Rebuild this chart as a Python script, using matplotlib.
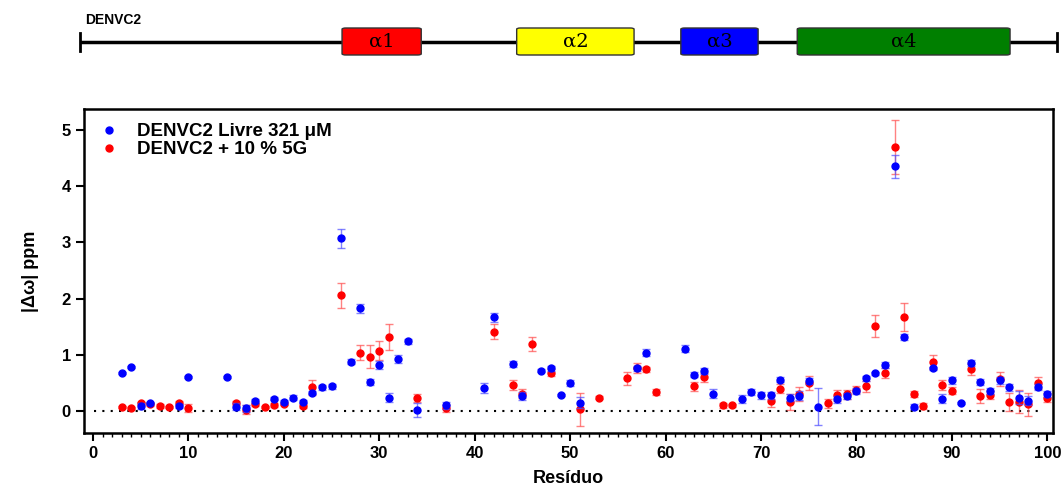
import matplotlib
matplotlib.use("Agg")
import matplotlib.pyplot as plt
from matplotlib.patches import FancyBboxPatch
from matplotlib.lines import Line2D
import numpy as np

plt.rcParams["font.family"] = ["Liberation Sans", "DejaVu Sans"]

# DENVC2 free (blue)
blue_res = [3, 4, 5, 6, 9, 10, 14, 15, 16, 17, 19, 20, 21, 22, 23, 24, 25, 26, 27, 28,
            29, 30, 31, 32, 33, 34, 37, 41, 42, 44, 45, 47, 48, 49, 50, 51, 57, 58, 62, 63,
            64, 65, 68, 69, 70, 71, 72, 73, 74, 75, 76, 78, 79, 80, 81, 82, 83, 84, 85, 86,
            88, 89, 90, 91, 92, 93, 94, 95, 96, 97, 98, 99, 100]
blue_val = [0.68, 0.79, 0.09, 0.14, 0.09, 0.60, 0.61, 0.08, 0.05, 0.18, 0.22, 0.16, 0.24, 0.17, 0.33, 0.42, 0.44, 3.07, 0.88, 1.83,
            0.52, 0.82, 0.24, 0.92, 1.24, 0.02, 0.10, 0.41, 1.67, 0.84, 0.27, 0.72, 0.76, 0.29, 0.50, 0.15, 0.76, 1.04, 1.11, 0.65,
            0.71, 0.31, 0.21, 0.34, 0.28, 0.28, 0.56, 0.24, 0.27, 0.53, 0.08, 0.21, 0.27, 0.36, 0.58, 0.67, 0.82, 4.35, 1.32, 0.08,
            0.76, 0.22, 0.55, 0.15, 0.85, 0.52, 0.36, 0.55, 0.42, 0.24, 0.18, 0.43, 0.30]
blue_err = [0.02, 0.02, 0.05, 0.03, 0.04, 0.02, 0.02, 0.06, 0.06, 0.04, 0.03, 0.03, 0.04, 0.03, 0.03, 0.04, 0.04, 0.17, 0.05, 0.08,
            0.05, 0.07, 0.08, 0.07, 0.05, 0.13, 0.06, 0.09, 0.08, 0.05, 0.07, 0.03, 0.05, 0.02, 0.05, 0.10, 0.05, 0.06, 0.06, 0.05,
            0.05, 0.08, 0.07, 0.05, 0.06, 0.06, 0.04, 0.06, 0.08, 0.05, 0.33, 0.06, 0.05, 0.05, 0.05, 0.03, 0.05, 0.20, 0.05, 0.05,
            0.03, 0.08, 0.06, 0.02, 0.05, 0.05, 0.05, 0.06, 0.06, 0.11, 0.08, 0.05, 0.05]

# DENVC2 + 10 % 5G (red)
red_res = [3, 4, 5, 6, 7, 8, 9, 10, 15, 16, 17, 18, 19, 20, 22, 23, 26, 28, 29, 30,
           31, 34, 37, 42, 44, 45, 46, 48, 51, 53, 56, 57, 58, 59, 63, 64, 66, 67, 71, 72,
           73, 74, 75, 77, 78, 79, 80, 81, 82, 83, 84, 85, 86, 87, 88, 89, 90, 92, 93, 94,
           95, 96, 97, 98, 99, 100]
red_val = [0.07, 0.06, 0.14, 0.12, 0.09, 0.07, 0.14, 0.05, 0.14, 0.02, 0.12, 0.07, 0.11, 0.13, 0.09, 0.42, 2.06, 1.04, 0.97, 1.07,
           1.32, 0.23, 0.05, 1.41, 0.47, 0.31, 1.19, 0.68, 0.03, 0.24, 0.58, 0.77, 0.74, 0.34, 0.44, 0.60, 0.10, 0.10, 0.18, 0.40,
           0.16, 0.30, 0.50, 0.14, 0.28, 0.30, 0.38, 0.44, 1.51, 0.67, 4.70, 1.68, 0.30, 0.09, 0.87, 0.46, 0.36, 0.74, 0.27, 0.28,
           0.57, 0.17, 0.17, 0.12, 0.50, 0.24]
red_err = [0.02, 0.02, 0.03, 0.03, 0.03, 0.02, 0.04, 0.07, 0.04, 0.08, 0.03, 0.02, 0.03, 0.03, 0.03, 0.14, 0.22, 0.14, 0.20, 0.17,
           0.23, 0.07, 0.06, 0.13, 0.09, 0.08, 0.12, 0.06, 0.30, 0.02, 0.11, 0.09, 0.05, 0.06, 0.08, 0.08, 0.05, 0.02, 0.10, 0.08,
           0.14, 0.12, 0.12, 0.08, 0.10, 0.08, 0.06, 0.10, 0.20, 0.09, 0.48, 0.25, 0.05, 0.05, 0.12, 0.09, 0.06, 0.10, 0.12, 0.07,
           0.12, 0.16, 0.20, 0.20, 0.10, 0.08]

# helices (residue ranges) for the top diagram
helix_names = ["α1", "α2", "α3", "α4"]
helix_start = [26.1, 44.4, 61.6, 73.8]
helix_end = [34.4, 56.7, 69.7, 96.1]
helix_colors = ["#ff0000", "#ffff00", "#0000ff", "#007f00"]

XLIM = (-0.94, 100.6)

fig = plt.figure(figsize=(10.63, 4.95), dpi=100)
ax = fig.add_axes([84 / 1063, 62 / 495, 969 / 1063, 324 / 495])

ax.axhline(0, color="k", linestyle=(0, (1, 3)), linewidth=1.5, xmin=0.01, xmax=0.99, zorder=1)
ax.errorbar(red_res, red_val, yerr=red_err, fmt="o", color="#ff0000", ms=5, ecolor=(1, 0.3, 0.3, 0.7),
            elinewidth=1, capsize=3, capthick=1, zorder=2)
ax.errorbar(blue_res, blue_val, yerr=blue_err, fmt="o", color="#0000ff", ms=5, ecolor=(0.3, 0.3, 1, 0.7),
            elinewidth=1, capsize=3, capthick=1, zorder=3)

ax.set_xlim(*XLIM)
ax.set_ylim(-0.39, 5.37)
ax.set_xticks(np.arange(0, 101, 10))
ax.set_xticks(np.arange(0, 101, 1), minor=True)
ax.set_yticks(np.arange(0, 6, 1))
for s in ax.spines.values():
    s.set_linewidth(1.8)
ax.tick_params(axis="both", which="major", width=1.5, length=6, labelsize=12)
ax.tick_params(axis="x", which="minor", width=1, length=3)
for lab in ax.get_xticklabels() + ax.get_yticklabels():
    lab.set_fontweight("bold")
ax.set_xlabel("Resíduo", fontsize=13, fontweight="bold", labelpad=6)
ax.set_ylabel("|Δω| ppm", fontsize=13, fontweight="bold", labelpad=16)

handles = [Line2D([], [], marker="o", ls="none", color="#0000ff", ms=5),
           Line2D([], [], marker="o", ls="none", color="#ff0000", ms=5)]
ax.legend(handles, ["DENVC2 Livre 321 μM", "DENVC2 + 10 % 5G"], loc="upper left", frameon=False,
          handletextpad=0.9, borderaxespad=0.35, borderpad=0.4, labelspacing=0.05,
          prop={"weight": "bold", "size": 13.5}, handlelength=1.2)

# top secondary structure diagram
top = fig.add_axes([84 / 1063, (495 - 70) / 495, 969 / 1063, 70 / 495])
top.set_xlim(*XLIM)
top.set_ylim(70, 0)
top.axis("off")
top.plot([-1.36, 101.0], [42, 42], color="k", lw=2.5, clip_on=False, solid_capstyle="butt")
for xe in (-1.36, 101.0):
    top.plot([xe, xe], [33, 51], color="k", lw=2, clip_on=False)
for name, s, e, c in zip(helix_names, helix_start, helix_end, helix_colors):
    top.add_patch(FancyBboxPatch((s, 28), e - s, 27, boxstyle="round,pad=0,rounding_size=0.4",
                                 facecolor=c, edgecolor="#333333", lw=1, zorder=3, mutation_aspect=3))
    top.text((s + e) / 2, 42, name, ha="center", va="center", fontsize=14, zorder=4,
             family=["DejaVu Serif"])
top.text(-0.84, 20, "DENVC2", fontsize=10, fontweight="bold", ha="left", va="center")

fig.savefig("out.png", dpi=100)
